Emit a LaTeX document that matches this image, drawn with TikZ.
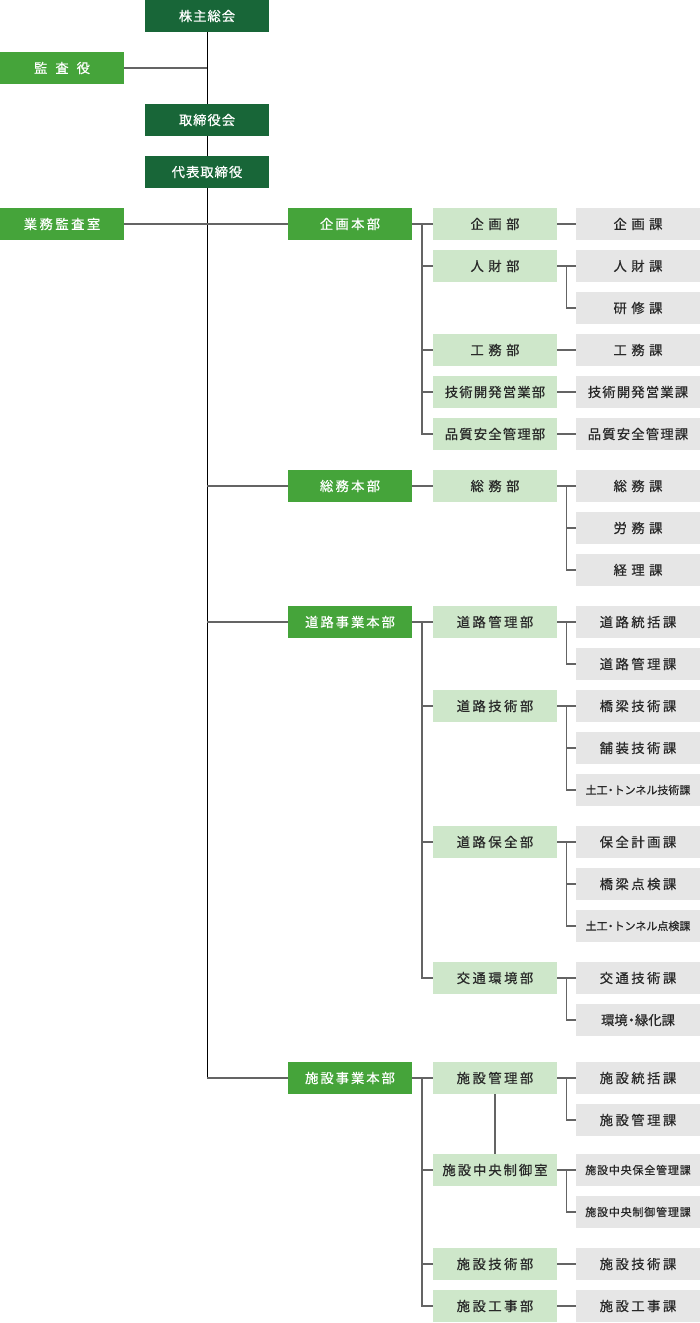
\documentclass[tikz,border=0pt]{standalone}
\usepackage{fontspec}
\setmainfont[FakeBold=0.6]{Noto Sans CJK JP}
\usetikzlibrary{calc}
\definecolor{dkgreen}{RGB}{24,102,56}
\definecolor{mdgreen}{RGB}{69,164,58}
\definecolor{ltgreen}{RGB}{206,231,202}
\definecolor{ltgray}{RGB}{230,230,230}
\definecolor{txt}{RGB}{40,40,40}
\definecolor{linegray}{RGB}{100,100,100}
\makeatletter
\newcommand\lsp[2]{\def\lsp@g{#1}\@tfor\lsp@c:=#2\do{\lsp@c\kern\lsp@g}\unkern}
\makeatother
\begin{document}
\begin{tikzpicture}[x=1pt,y=-1pt,
  box/.style={minimum width=124pt, minimum height=32pt, inner sep=0pt, outer sep=0pt, font=\fontsize{13.3}{13.3}\selectfont},
  topbox/.style={box, fill=dkgreen, text=white},
  hqbox/.style={box, fill=mdgreen, text=white},
  deptbox/.style={box, fill=ltgreen, text=txt},
  secbox/.style={box, fill=ltgray, text=txt},
  small/.style={font=\fontsize{11}{11}\selectfont},
  conn/.style={draw=linegray, line width=1.2pt},
  trunk/.style={draw=black, line width=1pt}]
\useasboundingbox (0,0) rectangle (700,1323);
% top column
\node[topbox] (kabu) at (207,16) {\lsp{1pt}{株主総会}};
\node[hqbox] (kansa) at (62,68) {\lsp{8pt}{監査役}};
\node[topbox] (tori) at (207,120) {\lsp{1pt}{取締役会}};
\node[topbox] (daihyo) at (207,172) {\lsp{1pt}{代表取締役}};
\node[hqbox] (gyomu) at (62,224) {\lsp{2.5pt}{業務監査室}};
% headquarters
\node[hqbox] (khq) at (350,224) {\lsp{2.3pt}{企画本部}};
\node[hqbox] (sohq) at (350,486) {\lsp{2.3pt}{総務本部}};
\node[hqbox] (dhq) at (350,622) {\lsp{2pt}{道路事業本部}};
\node[hqbox] (shq) at (350,1078) {\lsp{2pt}{施設事業本部}};
% departments
\node[deptbox] (d1) at (495,224) {\lsp{4.5pt}{企画部}};
\node[deptbox] (d2) at (495,266) {\lsp{4.5pt}{人財部}};
\node[deptbox] (d3) at (495,350) {\lsp{4.5pt}{工務部}};
\node[deptbox] (d4) at (495,392) {\lsp{1.2pt}{技術開発営業部}};
\node[deptbox] (d5) at (495,434) {\lsp{1.2pt}{品質安全管理部}};
\node[deptbox] (d6) at (495,486) {\lsp{4.5pt}{総務部}};
\node[deptbox] (d7) at (495,622) {\lsp{2.5pt}{道路管理部}};
\node[deptbox] (d8) at (495,706) {\lsp{2.5pt}{道路技術部}};
\node[deptbox] (d9) at (495,842) {\lsp{2.5pt}{道路保全部}};
\node[deptbox] (d10) at (495,978) {\lsp{2.5pt}{交通環境部}};
\node[deptbox] (d11) at (495,1078) {\lsp{2.5pt}{施設管理部}};
\node[deptbox] (d12) at (495,1170) {\lsp{2pt}{施設中央制御室}};
\node[deptbox] (d13) at (495,1264) {\lsp{2.5pt}{施設技術部}};
\node[deptbox] (d14) at (495,1306) {\lsp{2.5pt}{施設工事部}};
% sections
\node[secbox] (k1) at (638,224) {\lsp{4.5pt}{企画課}};
\node[secbox] (k2) at (638,266) {\lsp{4.5pt}{人財課}};
\node[secbox] (k3) at (638,308) {\lsp{4.5pt}{研修課}};
\node[secbox] (k4) at (638,350) {\lsp{4.5pt}{工務課}};
\node[secbox] (k5) at (638,392) {\lsp{1.2pt}{技術開発営業課}};
\node[secbox] (k6) at (638,434) {\lsp{1.2pt}{品質安全管理課}};
\node[secbox] (k7) at (638,486) {\lsp{4.5pt}{総務課}};
\node[secbox] (k8) at (638,528) {\lsp{4.5pt}{労務課}};
\node[secbox] (k9) at (638,570) {\lsp{4.5pt}{経理課}};
\node[secbox] (k10) at (638,622) {\lsp{2.5pt}{道路統括課}};
\node[secbox] (k11) at (638,664) {\lsp{2.5pt}{道路管理課}};
\node[secbox] (k12) at (638,706) {\lsp{2.5pt}{橋梁技術課}};
\node[secbox] (k13) at (638,748) {\lsp{2.5pt}{舗装技術課}};
\node[secbox,small] (k14) at (638,790) {土工\kern-2.5pt・\kern-2.5pt トンネル技術課};
\node[secbox] (k15) at (638,842) {\lsp{2.5pt}{保全計画課}};
\node[secbox] (k16) at (638,884) {\lsp{2.5pt}{橋梁点検課}};
\node[secbox,small] (k17) at (638,926) {土工\kern-2.5pt・\kern-2.5pt トンネル点検課};
\node[secbox] (k18) at (638,978) {\lsp{2.5pt}{交通技術課}};
\node[secbox] (k19) at (638,1020) {環境\kern-3pt・\kern-3pt 緑化課};
\node[secbox] (k20) at (638,1078) {\lsp{2.5pt}{施設統括課}};
\node[secbox] (k21) at (638,1120) {\lsp{2.5pt}{施設管理課}};
\node[secbox,small] (k22) at (638,1170) {\lsp{0.8pt}{施設中央保全管理課}};
\node[secbox,small] (k23) at (638,1212) {\lsp{0.8pt}{施設中央制御管理課}};
\node[secbox] (k24) at (638,1264) {\lsp{2.5pt}{施設技術課}};
\node[secbox] (k25) at (638,1306) {\lsp{2.5pt}{施設工事課}};
% trunk
\draw[trunk] (kabu.south) -- (tori.north);
\draw[trunk] (tori.south) -- (daihyo.north);
\draw[trunk] (daihyo.south) -- (daihyo.south |- shq.west);
\draw[conn] (kansa.east) -- (kansa.east -| kabu.south);
\draw[conn] (gyomu.east) -- (khq.west);
\draw[conn] (sohq.west -| daihyo.south) -- (sohq.west);
\draw[conn] (dhq.west -| daihyo.south) -- (dhq.west);
\draw[conn] (shq.west -| daihyo.south) -- (shq.west);
% brackets HQ -> departments
\foreach \p/\cs in {khq/{d1,d2,d3,d4,d5}, sohq/{d6}, dhq/{d7,d8,d9,d10}, shq/{d11,d12,d13,d14}}{
  \draw[conn] (\p.east) -- ($(\p.east)+(10,0)$);
  \foreach \c in \cs { \draw[conn] ($(\p.east)+(10,0)$) |- (\c.west); }
}
% brackets departments -> sections
\foreach \p/\cs in {d1/{k1}, d2/{k2,k3}, d3/{k4}, d4/{k5}, d5/{k6}, d6/{k7,k8,k9}, d7/{k10,k11}, d8/{k12,k13,k14}, d9/{k15,k16,k17}, d10/{k18,k19}, d11/{k20,k21}, d12/{k22,k23}, d13/{k24}, d14/{k25}}{
  \draw[conn] (\p.east) -- ($(\p.east)+(9.5,0)$);
  \foreach \c in \cs { \draw[conn] ($(\p.east)+(9.5,0)$) |- (\c.west); }
}
\draw[conn] (d11.south) -- (d12.north);
\end{tikzpicture}
\end{document}
